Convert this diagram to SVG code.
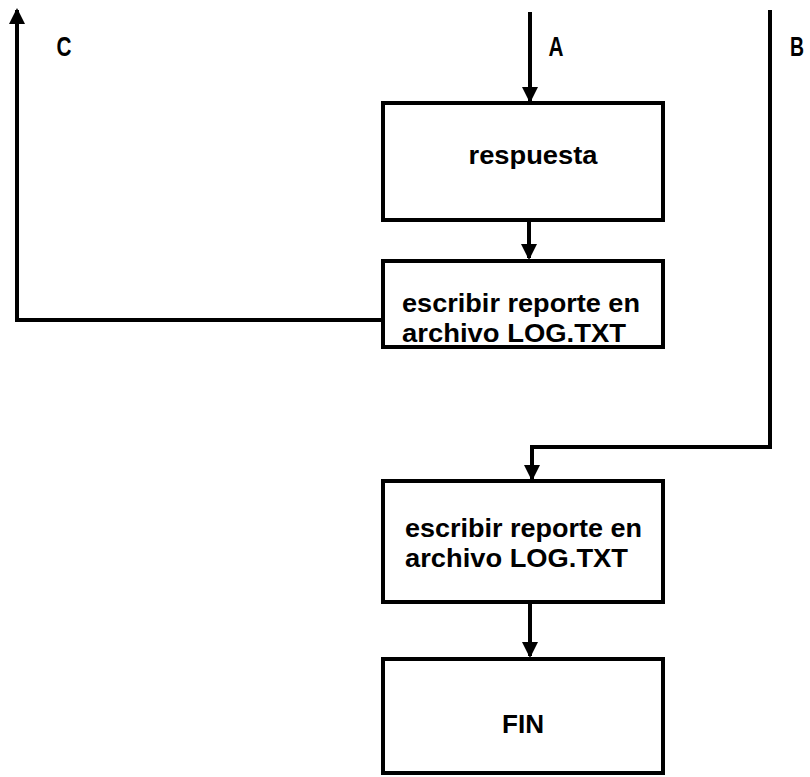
<svg xmlns="http://www.w3.org/2000/svg" width="810" height="777" viewBox="0 0 810 777">
<style>
.box{fill:#fff;stroke:#000;stroke-width:4}
.ln{fill:none;stroke:#000;stroke-width:4}
.t{font-family:"Liberation Sans",Arial,sans-serif;font-weight:bold;font-size:26px;fill:#000}
.lbl{font-family:"Liberation Sans",Arial,sans-serif;font-weight:bold;font-size:28px;fill:#000}
</style>
<defs>
<marker id="ah" markerWidth="4" markerHeight="4" refX="3.5" refY="2" orient="auto" markerUnits="strokeWidth">
<path d="M0,0 L4,2 L0,4 Z" fill="#000"/>
</marker>
</defs>
<rect width="810" height="777" fill="#fff"/>
<g id="connectors">
<path class="ln" d="M530,12 L530,101" marker-end="url(#ah)"/>
<path class="ln" d="M529,220 L529,258" marker-end="url(#ah)"/>
<path class="ln" d="M382,320 L17,320 L17,10" marker-end="url(#ah)"/>
<path class="ln" d="M770,10 L770,447 L532,447 L532,479" marker-end="url(#ah)"/>
<path class="ln" d="M530,602 L530,656" marker-end="url(#ah)"/>
</g>
<g id="labels">
<text class="lbl" x="64" y="56" text-anchor="middle" textLength="15" lengthAdjust="spacingAndGlyphs">C</text>
<text class="lbl" x="556" y="56" text-anchor="middle" textLength="15" lengthAdjust="spacingAndGlyphs">A</text>
<text class="lbl" x="797" y="56" text-anchor="middle" textLength="14" lengthAdjust="spacingAndGlyphs">B</text>
</g>
<g id="n1">
<rect class="box" x="383" y="103" width="280" height="117"/>
<text class="t" x="533" y="164" text-anchor="middle" textLength="129" lengthAdjust="spacingAndGlyphs">respuesta</text>
</g>
<g id="n2">
<rect class="box" x="383" y="261" width="280" height="86"/>
<text class="t" x="402" y="312" textLength="238" lengthAdjust="spacingAndGlyphs">escribir reporte en</text>
<text class="t" x="402" y="342" textLength="224" lengthAdjust="spacingAndGlyphs">archivo  LOG.TXT</text>
</g>
<g id="n3">
<rect class="box" x="383" y="481" width="280" height="121"/>
<text class="t" x="405" y="537" textLength="237" lengthAdjust="spacingAndGlyphs">escribir reporte en</text>
<text class="t" x="405" y="567" textLength="223" lengthAdjust="spacingAndGlyphs">archivo  LOG.TXT</text>
</g>
<g id="n4">
<rect class="box" x="383" y="659" width="280" height="114"/>
<text class="t" x="523" y="733" text-anchor="middle" textLength="42" lengthAdjust="spacingAndGlyphs">FIN</text>
</g>
</svg>
